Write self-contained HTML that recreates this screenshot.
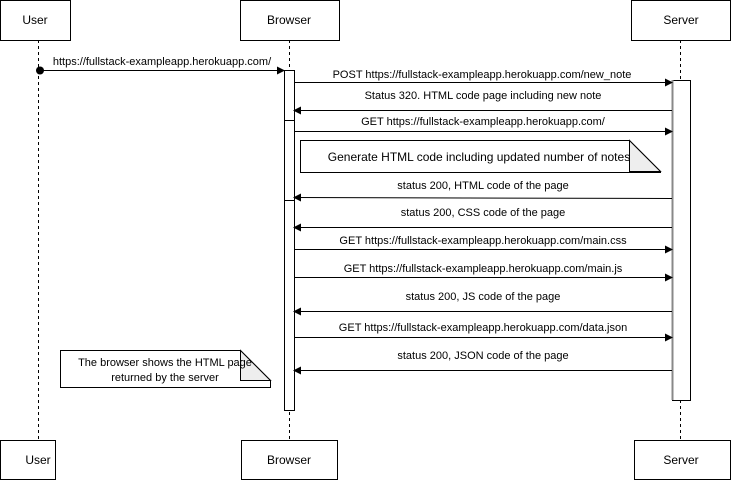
<!DOCTYPE html>
<html><head><meta charset="utf-8"><style>
html,body{margin:0;padding:0;background:#fff;}
svg{display:block;font-family:"Liberation Sans",Arial,sans-serif;}
</style></head><body>
<svg width="731" height="480" viewBox="0 0 731 480" xmlns="http://www.w3.org/2000/svg">
<defs>
<marker id="a" markerWidth="8" markerHeight="8" refX="7" refY="4" orient="auto" markerUnits="userSpaceOnUse">
<path d="M0,0 L8,4 L0,8 z" fill="#000"/>
</marker>
</defs>
<g stroke="#000" stroke-dasharray="3,3" stroke-width="1">
<line x1="38.5" y1="40" x2="38.5" y2="440"/>
<line x1="289.5" y1="40" x2="289.5" y2="440"/>
<line x1="680.5" y1="40" x2="680.5" y2="440"/>
</g>
<g fill="#fff" stroke="#000">
<rect x="0.5" y="0.5" width="70" height="40"/>
<rect x="240.5" y="0.5" width="99" height="40"/>
<rect x="631.5" y="0.5" width="99" height="40"/>
<rect x="0.5" y="440.5" width="55" height="39"/>
<rect x="241.5" y="440.5" width="96" height="39"/>
<rect x="634.5" y="440.5" width="96" height="39"/>
<rect x="284.5" y="70.5" width="10" height="340"/>
<rect x="672.5" y="80.5" width="18" height="320"/>
</g>
<line x1="672.5" y1="80" x2="672.5" y2="400" stroke="#888" stroke-width="2"/>
<line x1="284" y1="120.5" x2="294" y2="120.5" stroke="#000"/>
<line x1="284" y1="200.5" x2="294" y2="200.5" stroke="#000"/>
<g font-size="12" text-anchor="middle" fill="#000">
<text x="35" y="24">User</text>
<text x="289" y="24">Browser</text>
<text x="681" y="24">Server</text>
<text x="38" y="464">User</text>
<text x="289" y="464">Browser</text>
<text x="681" y="464">Server</text>
</g>
<circle cx="40" cy="70.5" r="4" fill="#000"/>
<g stroke="#000" marker-end="url(#a)">
<line x1="40" y1="70.5" x2="284" y2="70.5"/>
<line x1="294" y1="82.5" x2="672" y2="82.5"/>
<line x1="672" y1="110.5" x2="294" y2="110.5"/>
<line x1="294" y1="131.5" x2="672" y2="131.5"/>
<line x1="672" y1="198.5" x2="294" y2="197.5"/>
<line x1="672" y1="227.5" x2="294" y2="227.5"/>
<line x1="294" y1="249.5" x2="672" y2="249.5"/>
<line x1="294" y1="277.5" x2="672" y2="277.5"/>
<line x1="672" y1="311.5" x2="294" y2="311.5"/>
<line x1="294" y1="337.5" x2="672" y2="337.5"/>
<line x1="672" y1="370.5" x2="294" y2="370.5"/>
</g>
<path d="M300.5,140.5 H629.5 L660.5,171.5 V172.5 H300.5 Z" fill="#fff" stroke="#000"/>
<path d="M629.5,140.5 L660.5,171.5 H629.5 Z" fill="#eee" stroke="#000"/>
<path d="M60.5,350.5 H240.5 L270.5,380.5 V387.5 H60.5 Z" fill="#fff" stroke="#000"/>
<path d="M240.5,350.5 L270.5,380.5 H240.5 Z" fill="#eee" stroke="#000"/>
<g font-size="11" text-anchor="middle" fill="#000">
<text x="162" y="65">https://fullstack-exampleapp.herokuapp.com/</text>
<text x="482" y="78">POST https://fullstack-exampleapp.herokuapp.com/new_note</text>
<text x="483" y="99">Status 320. HTML code page including new note</text>
<text x="483" y="125">GET https://fullstack-exampleapp.herokuapp.com/</text>
<text x="483" y="189">status 200, HTML code of the page</text>
<text x="483" y="216">status 200, CSS code of the page</text>
<text x="483" y="244">GET https://fullstack-exampleapp.herokuapp.com/main.css</text>
<text x="483" y="272">GET https://fullstack-exampleapp.herokuapp.com/main.js</text>
<text x="483" y="300">status 200, JS code of the page</text>
<text x="483" y="331">GET https://fullstack-exampleapp.herokuapp.com/data.json</text>
<text x="483" y="359">status 200, JSON code of the page</text>
<text x="165" y="366">The browser shows the HTML page</text>
<text x="165" y="381">returned by the server</text>
</g>
<text x="479" y="161" font-size="12" text-anchor="middle">Generate HTML code including updated number of notes</text>
</svg>
</body></html>
